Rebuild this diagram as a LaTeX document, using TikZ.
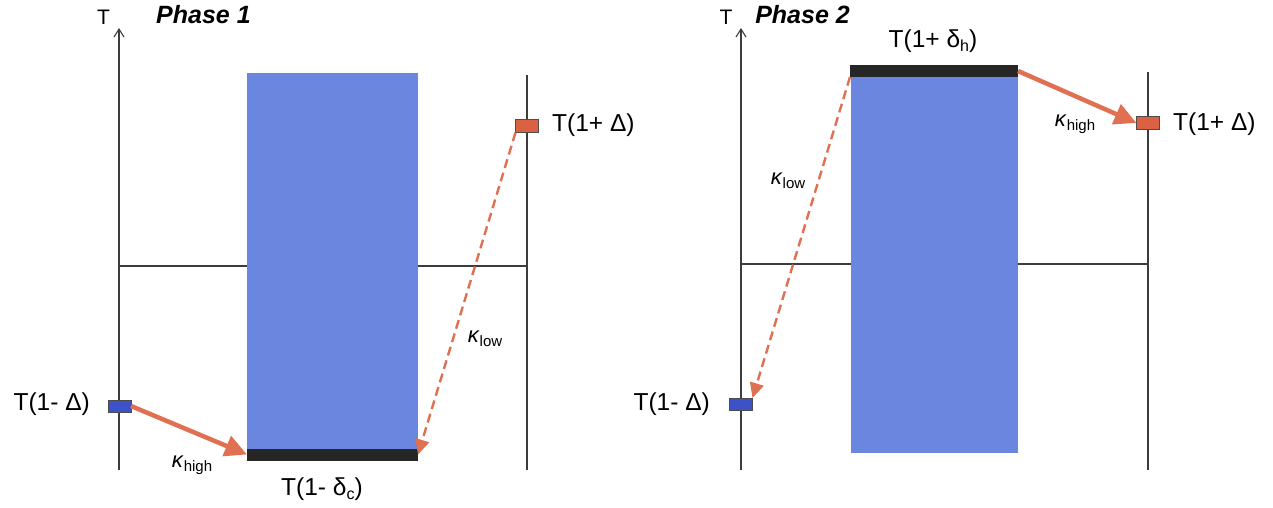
\documentclass[tikz,border=0pt]{standalone}
\usepackage{fontspec}
\setmainfont{Liberation Sans}
\usetikzlibrary{arrows.meta}
\definecolor{bigblue}{RGB}{106,134,223}
\definecolor{smallblue}{RGB}{62,82,200}
\definecolor{orangebox}{RGB}{218,98,66}
\definecolor{orangearr}{RGB}{224,112,82}
\definecolor{axisgray}{RGB}{60,60,60}
\newcommand{\lbl}{\fontsize{24.5}{28}\selectfont}
\newcommand{\klbl}{\fontsize{22}{26}\selectfont}
\newcommand{\subl}[1]{\raisebox{-0.35ex}{\fontsize{16}{17}\selectfont #1}}
\newcommand{\ksubl}[1]{\raisebox{-0.35ex}{\fontsize{15}{16}\selectfont #1}}
\begin{document}
\begin{tikzpicture}[x=1pt,y=-1pt,
  axisline/.style={draw=axisgray,line width=1.1pt},
  axisarrow/.style={axisline,-{Straight Barb[length=8pt,width=10pt,line width=1.1pt]}},
  bigrect/.style={fill=bigblue,draw=none,inner sep=0pt,outer sep=0pt},
  blackbar/.style={fill=black!85,draw=none,inner sep=0pt,outer sep=0pt,minimum height=12pt},
  obox/.style={fill=orangebox,draw=black!70,line width=0.6pt,inner sep=0pt,outer sep=0pt,minimum width=23pt,minimum height=13pt},
  bbox/.style={fill=smallblue,draw=black!70,line width=0.6pt,inner sep=0pt,outer sep=0pt,minimum width=23pt,minimum height=12pt},
  thickarrow/.style={draw=orangearr,line width=4.5pt,-{Triangle[length=22pt,width=21pt]}},
  dasharrow/.style={draw=orangearr,line width=2.4pt,dash pattern=on 9pt off 5pt,-{Triangle[length=15pt,width=14pt]}},
  txt/.style={inner sep=0pt,font=\lbl},
  ktxt/.style={inner sep=0pt,font=\klbl},
  axlbl/.style={inner sep=0pt,font=\fontsize{21}{24}\selectfont},
  ttl/.style={inner sep=0pt,font=\fontsize{25}{28}\selectfont\bfseries\itshape}]
\useasboundingbox (0,0) rectangle (1273,507);
% ---------- Phase 1 ----------
\coordinate (a1b) at (119,470);
\coordinate (a1t) at (119,28);
\coordinate (h1l) at (119,266);
\coordinate (h1r) at (527,266);
\coordinate (r1t) at (527,75);
\coordinate (r1b) at (527,470);
\draw[axisarrow] (a1b) -- (a1t);
\draw[axisline] (h1l) -- (h1r);
\draw[axisline] (r1t) -- (r1b);
\node[axlbl,anchor=base] (T1) at (103.5,24) {T};
\node[ttl,anchor=base] (P1) at (203.5,23) {Phase 1};
\node[bigrect,minimum width=171pt,minimum height=382pt] (rect1) at (332.5,264) {};
\node[blackbar,minimum width=171pt] (bar1) at (332.5,454.5) {};
\node[obox] (ob1) at (527,126) {};
\node[bbox] (bb1) at (119.5,406) {};
\node[txt,anchor=base west] (l1a) at (552,131) {T(1+ Δ)};
\node[txt,anchor=base east] (l1b) at (90,410) {T(1- Δ)};
\node[txt,anchor=base] (l1c) at (322,495) {T(1- δ\subl{c})};
\node[ktxt] (k1h) at (192,465) {\textit{κ}\ksubl{high}};
\node[ktxt] (k1l) at (485,339) {\textit{κ}\ksubl{low}};
\draw[thickarrow] (bb1.east) -- (bar1.west);
\draw[dasharrow] (ob1.south west) -- (bar1.east);
% ---------- Phase 2 ----------
\coordinate (a2b) at (741,470);
\coordinate (a2t) at (741,28);
\coordinate (h2l) at (741,264);
\coordinate (h2r) at (1148,264);
\coordinate (r2t) at (1148,72);
\coordinate (r2b) at (1148,470);
\draw[axisarrow] (a2b) -- (a2t);
\draw[axisline] (h2l) -- (h2r);
\draw[axisline] (r2t) -- (r2b);
\node[axlbl,anchor=base] (T2) at (726,24) {T};
\node[ttl,anchor=base] (P2) at (802.5,23) {Phase 2};
\node[bigrect,minimum width=167pt,minimum height=385pt] (rect2) at (934.5,260.5) {};
\node[blackbar,minimum width=168pt] (bar2) at (934,71) {};
\node[obox] (ob2) at (1148,123) {};
\node[bbox] (bb2) at (741,404) {};
\node[txt,anchor=base] (l2c) at (933,47) {T(1+ δ\subl{h})};
\node[txt,anchor=base west] (l2a) at (1173,130) {T(1+ Δ)};
\node[txt,anchor=base east] (l2b) at (710,410) {T(1- Δ)};
\node[ktxt] (k2h) at (1075,124) {\textit{κ}\ksubl{high}};
\node[ktxt] (k2l) at (788,181) {\textit{κ}\ksubl{low}};
\draw[thickarrow] (bar2.east) -- (ob2.west);
\draw[dasharrow] (bar2.south west) -- (bb2.north east);
\end{tikzpicture}
\end{document}
